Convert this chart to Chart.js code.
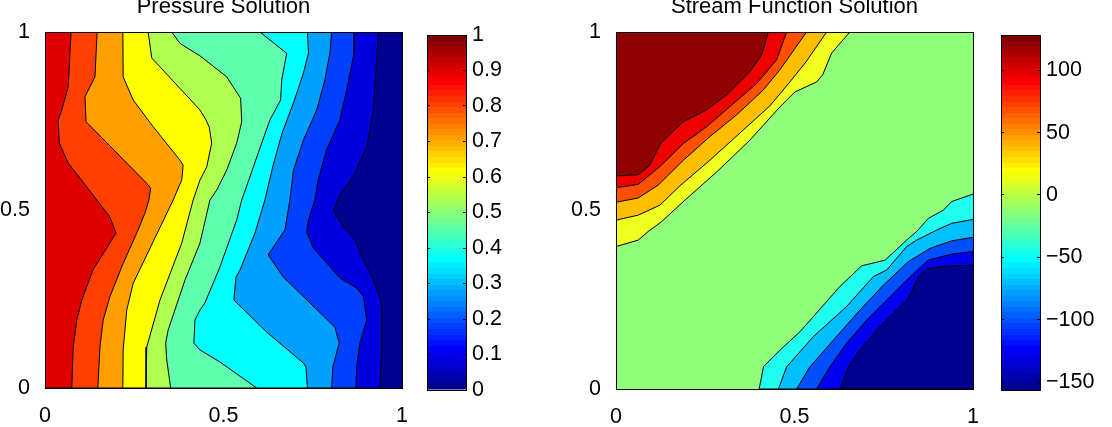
<!DOCTYPE html>
<html>
<head>
<meta charset="utf-8">
<script src="https://cdn.jsdelivr.net/npm/chart.js@4.4.1/dist/chart.umd.min.js"></script>
<style>
  html, body { margin: 0; padding: 0; background: #fff; }
  #wrap { position: relative; width: 1112px; height: 427px; overflow: hidden; }
  #wrap canvas { position: absolute; left: 0; top: 0; }
</style>
</head>
<body>
<div id="wrap">
  <canvas id="pressure" width="1112" height="427"></canvas>
  <canvas id="pressureBar" width="1112" height="427"></canvas>
  <canvas id="stream" width="1112" height="427"></canvas>
  <canvas id="streamBar" width="1112" height="427"></canvas>
</div>
<script>
// pressure contour lines, each traced from the top edge (y = 1) down to y = 0,
// from the high pressure side (left) to the low side (right)
const pressureC1 = [[0.073,1],[0.065,0.846],[0.047,0.781],[0.037,0.753],[0.040,0.688],[0.065,0.632],[0.182,0.480],[0.199,0.435],[0.134,0.331],[0.103,0.247],[0.089,0.191],[0.079,0.115],[0.075,0]];
const pressureC2 = [[0.146,1],[0.140,0.874],[0.126,0.846],[0.112,0.818],[0.115,0.748],[0.285,0.575],[0.296,0.561],[0.291,0.528],[0.280,0.491],[0.257,0.435],[0.219,0.350],[0.182,0.257],[0.163,0.191],[0.154,0.116],[0.148,0]];
const pressureC3 = [[0.218,1],[0.219,0.874],[0.247,0.809],[0.303,0.734],[0.378,0.640],[0.387,0.626],[0.383,0.584],[0.359,0.528],[0.247,0.294],[0.229,0.219],[0.219,0.107],[0.218,0]];
const pressureC4 = [[0.289,1],[0.299,0.927],[0.434,0.781],[0.451,0.753],[0.460,0.733],[0.467,0.688],[0.453,0.621],[0.434,0.584],[0.415,0.528],[0.383,0.407],[0.322,0.247],[0.285,0.115],[0.283,0]];
const pressureC5 = [[0.355,1],[0.378,0.968],[0.434,0.933],[0.509,0.874],[0.527,0.846],[0.548,0.814],[0.551,0.748],[0.537,0.688],[0.509,0.612],[0.481,0.556],[0.462,0.528],[0.434,0.407],[0.392,0.303],[0.345,0.163],[0.338,0.126],[0.341,0.079],[0.352,0]];
const pressureC6 = [[0.602,1],[0.677,0.940],[0.663,0.865],[0.660,0.809],[0.630,0.753],[0.607,0.688],[0.574,0.593],[0.551,0.528],[0.537,0.472],[0.490,0.340],[0.448,0.239],[0.434,0.219],[0.420,0.191],[0.417,0.126],[0.434,0.107],[0.490,0.073],[0.593,0]];
const pressureC7 = [[0.735,1],[0.738,0.941],[0.724,0.885],[0.696,0.801],[0.664,0.716],[0.639,0.626],[0.616,0.528],[0.588,0.435],[0.546,0.331],[0.535,0.312],[0.529,0.247],[0.621,0.157],[0.724,0.070],[0.731,0.059],[0.735,0]];
const pressureC8 = [[0.803,1],[0.798,0.941],[0.784,0.865],[0.761,0.781],[0.724,0.697],[0.696,0.612],[0.686,0.528],[0.672,0.444],[0.625,0.374],[0.667,0.312],[0.812,0.171],[0.824,0.126],[0.806,0.059],[0.803,0]];
const pressureC9 = [[0.867,1],[0.866,0.941],[0.845,0.837],[0.826,0.753],[0.789,0.669],[0.765,0.584],[0.756,0.528],[0.738,0.472],[0.733,0.438],[0.752,0.393],[0.826,0.309],[0.873,0.281],[0.892,0.256],[0.901,0.191],[0.882,0.126],[0.873,0.059],[0.871,0]];
const pressureC10 = [[0.934,1],[0.929,0.921],[0.920,0.781],[0.901,0.677],[0.868,0.604],[0.826,0.542],[0.808,0.497],[0.836,0.452],[0.868,0.416],[0.892,0.360],[0.920,0.303],[0.938,0.256],[0.943,0.219],[0.943,0.115],[0.938,0]];

// stream function, upper-left contours (left edge -> top edge), outermost first
const streamT5 = [[0,0.399],[0.062,0.417],[0.090,0.441],[0.128,0.469],[0.193,0.529],[0.282,0.608],[0.375,0.697],[0.459,0.790],[0.501,0.832],[0.562,0.860],[0.579,0.880],[0.604,0.941],[0.655,1]];
const streamT4 = [[0,0.473],[0.062,0.487],[0.123,0.515],[0.179,0.569],[0.263,0.641],[0.356,0.725],[0.431,0.793],[0.487,0.860],[0.532,0.916],[0.590,1]];
const streamT3 = [[0,0.523],[0.062,0.535],[0.118,0.571],[0.189,0.641],[0.263,0.707],[0.338,0.768],[0.413,0.838],[0.459,0.894],[0.534,1]];
const streamT2 = [[0,0.564],[0.062,0.573],[0.123,0.623],[0.189,0.688],[0.254,0.735],[0.319,0.791],[0.394,0.856],[0.450,0.922],[0.478,1]];
const streamT1 = [[0,0.597],[0.062,0.600],[0.093,0.625],[0.125,0.688],[0.189,0.749],[0.249,0.779],[0.310,0.824],[0.375,0.889],[0.408,0.936],[0.427,1]];

// stream function, lower-right contours (right edge -> bottom edge), outermost first
const streamB1 = [[1,0.546],[0.940,0.525],[0.917,0.501],[0.875,0.478],[0.842,0.441],[0.814,0.417],[0.754,0.361],[0.688,0.345],[0.627,0.287],[0.553,0.203],[0.515,0.160],[0.469,0.118],[0.431,0.081],[0.413,0.062],[0.401,0]];
const streamB2 = [[1,0.475],[0.940,0.464],[0.898,0.445],[0.842,0.417],[0.814,0.399],[0.758,0.333],[0.721,0.315],[0.646,0.231],[0.553,0.147],[0.515,0.104],[0.478,0.062],[0.455,0]];
const streamB3 = [[1,0.425],[0.940,0.415],[0.880,0.394],[0.819,0.357],[0.749,0.291],[0.683,0.221],[0.609,0.137],[0.543,0.062],[0.506,0]];
const streamB4 = [[1,0.385],[0.940,0.378],[0.875,0.361],[0.824,0.315],[0.768,0.259],[0.702,0.193],[0.646,0.128],[0.599,0.062],[0.562,0]];
const streamB5 = [[1,0.347],[0.936,0.345],[0.875,0.338],[0.847,0.315],[0.819,0.254],[0.739,0.175],[0.683,0.109],[0.651,0.062],[0.627,0]];

const unitSquare = [[0,0],[1,0],[1,1],[0,1]];

// axis ticks
const axisTicks = [0, 0.5, 1];
const axisTickLabels = ['0', '0.5', '1'];
const pressureRange = [0, 1];
const pressureBarTicks = [0, 0.1, 0.2, 0.3, 0.4, 0.5, 0.6, 0.7, 0.8, 0.9, 1];
const pressureBarLabels = ['0', '0.1', '0.2', '0.3', '0.4', '0.5', '0.6', '0.7', '0.8', '0.9', '1'];
const streamRange = [-156.4, 128.3];
const streamBarTicks = [-150, -100, -50, 0, 50, 100];
const streamBarLabels = ['\u2212150', '\u2212100', '\u221250', '0', '50', '100'];

// band colours, low to high
const pressureColors = ['#000090', '#0000df', '#0040ff', '#00a0ff', '#00ffff', '#60ffb0', '#b0ff50', '#ffff00', '#ffa000', '#ff4000', '#df0000'];
const streamLowColors = ['#20ffef', '#00bfff', '#0050ff', '#0000ef', '#00008f'];
const streamHighColors = ['#efff20', '#ffbf00', '#ff5000', '#ef0000', '#8f0000'];
const streamMidColor = '#90ff7c';

const W = 1112, H = 427;
const FONT = { family: "'Liberation Sans', Arial, Helvetica, sans-serif", size: 21.5 };
const frame = { display: true, color: '#000', width: 1, z: 2 };
const fixedSize = (w, h) => s => {
  if (s.isHorizontal()) s.height = h; else s.width = w;
};
const fixedTicks = values => s => { s.ticks = values.map(v => ({ value: v })); };

// MATLAB style jet colormap
function jet(m) {
  const n = Math.ceil(m / 4);
  const u = [];
  for (let i = 1; i <= n; i++) u.push(i / n);
  for (let i = 1; i < n; i++) u.push(1);
  for (let i = n; i >= 1; i--) u.push(i / n);
  const off = Math.ceil(n / 2) - (m % 4 === 1 ? 1 : 0);
  const gAll = u.map((_, k) => off + k + 1);
  const r = gAll.map(v => v + n).filter(v => v <= m);
  const b = gAll.map(v => v - n).filter(v => v >= 1);
  const g = gAll.filter(v => v <= m);
  const rgb = Array.from({ length: m }, () => [0, 0, 0]);
  r.forEach((row, k) => { rgb[row - 1][0] = u[k]; });
  g.forEach((row, k) => { rgb[row - 1][1] = u[k]; });
  b.forEach((row, k) => { rgb[row - 1][2] = u[u.length - b.length + k]; });
  return rgb.map(c => `rgb(${c.map(v => Math.round(v * 255)).join(',')})`);
}
const jetMap = jet(64);

const toPoints = arr => arr.map(([x, y]) => ({ x, y }));

function layer(points, color, stroke) {
  return {
    data: toPoints(points),
    showLine: true,
    fill: 'shape',
    backgroundColor: color,
    borderColor: '#000',
    borderWidth: stroke ? 1 : 0,
    pointRadius: 0,
    pointHoverRadius: 0,
    tension: 0
  };
}

// first layer sits at the bottom
function stackOrder(layers) {
  layers.forEach((d, i) => { d.order = layers.length - i; });
  return layers;
}

// area = plot rectangle in canvas pixels; the y axis box runs from x = 0 (or a
// fixed width) up to area.left so its labels are not clipped
function contourChart(id, title, layers, area, yAxisWidth) {
  return new Chart(document.getElementById(id), {
    type: 'scatter',
    data: { datasets: stackOrder(layers) },
    options: {
      responsive: false,
      animation: false,
      events: [],
      layout: { padding: { left: area.left - yAxisWidth, right: W - area.right, top: 0, bottom: 0 } },
      plugins: {
        legend: { display: false },
        tooltip: { enabled: false },
        title: {
          display: true,
          text: title,
          fullSize: false,
          color: '#000',
          font: { family: FONT.family, size: 22, weight: 'normal', lineHeight: 0.66 },
          padding: { top: 0, bottom: area.top - 22 * 0.66 }
        }
      },
      scales: {
        x: {
          type: 'linear', position: 'bottom', min: 0, max: 1,
          afterBuildTicks: fixedTicks(axisTicks), afterFit: fixedSize(0, H - area.bottom),
          ticks: { callback: (v, i) => axisTickLabels[i], color: '#000', font: FONT, padding: 7, maxRotation: 0, autoSkip: false },
          grid: { display: false }, border: frame
        },
        y: {
          type: 'linear', position: 'left', min: 0, max: 1,
          afterBuildTicks: fixedTicks(axisTicks), afterFit: fixedSize(yAxisWidth, 0),
          ticks: { callback: (v, i) => axisTickLabels[i], color: '#000', font: FONT, padding: 7, autoSkip: false },
          grid: { display: false }, border: frame
        },
        x2: {
          type: 'linear', position: 'top', min: 0, max: 1, afterFit: fixedSize(0, 0),
          ticks: { display: false }, grid: { display: false }, border: frame
        },
        y2: {
          type: 'linear', position: 'right', min: 0, max: 1, afterFit: fixedSize(0, 0),
          ticks: { display: false }, grid: { display: false }, border: frame
        }
      }
    }
  });
}

function colorbarChart(id, range, tickValues, tickLabels, area) {
  const labelWidth = 70;
  const inward = { display: true, drawOnChartArea: false, drawTicks: true, tickLength: -3, color: '#000', tickColor: '#000', tickWidth: 1, z: 1 };
  const jetFill = c => {
    const chart = c.chart;
    const a = chart.chartArea;
    if (!a) return jetMap[0];
    const grad = chart.ctx.createLinearGradient(0, a.bottom, 0, a.top);
    jetMap.forEach((col, i) => {
      grad.addColorStop(i / jetMap.length, col);
      grad.addColorStop((i + 1) / jetMap.length, col);
    });
    return grad;
  };
  return new Chart(document.getElementById(id), {
    type: 'bar',
    data: {
      labels: [''],
      datasets: [{ data: [range], backgroundColor: jetFill, borderWidth: 0, barPercentage: 1, categoryPercentage: 1, inflateAmount: 0 }]
    },
    options: {
      responsive: false,
      animation: false,
      events: [],
      layout: { padding: { left: area.left, right: W - area.right - labelWidth, top: area.top, bottom: H - area.bottom } },
      plugins: { legend: { display: false }, tooltip: { enabled: false } },
      scales: {
        x: { position: 'bottom', afterFit: fixedSize(0, 0), ticks: { display: false }, grid: { display: false }, border: frame },
        x2: { type: 'category', position: 'top', afterFit: fixedSize(0, 0), ticks: { display: false }, grid: { display: false }, border: frame },
        y: {
          type: 'linear', position: 'right', min: range[0], max: range[1],
          afterBuildTicks: fixedTicks(tickValues), afterFit: fixedSize(labelWidth, 0),
          ticks: { callback: (v, i) => tickLabels[i], color: '#000', font: FONT, padding: 9, autoSkip: false },
          grid: inward, border: frame
        },
        y2: {
          type: 'linear', position: 'left', min: range[0], max: range[1],
          afterBuildTicks: fixedTicks(tickValues), afterFit: fixedSize(0, 0),
          ticks: { display: false },
          grid: inward, border: frame
        }
      }
    }
  });
}

// pressure: each band fills everything left of its contour
const pressureLines = [pressureC10, pressureC9, pressureC8, pressureC7, pressureC6, pressureC5, pressureC4, pressureC3, pressureC2, pressureC1];
const pressureLayers = [layer(unitSquare, pressureColors[0], false)];
pressureLines.forEach((line, i) => {
  pressureLayers.push(layer([...line, [0, 0], [0, 1]], pressureColors[i + 1], true));
});

// stream function: neutral background, high values in the upper-left corner,
// low values in the lower-right corner
const streamLayers = [layer(unitSquare, streamMidColor, false)];
[streamT5, streamT4, streamT3, streamT2, streamT1].forEach((line, i) => {
  streamLayers.push(layer([...line, [0, 1]], streamHighColors[i], true));
});
[streamB1, streamB2, streamB3, streamB4, streamB5].forEach((line, i) => {
  streamLayers.push(layer([...line, [1, 0]], streamLowColors[i], true));
});

contourChart('pressure', 'Pressure Solution', pressureLayers, { left: 45, right: 402, top: 32, bottom: 388 }, 45);
colorbarChart('pressureBar', pressureRange, pressureBarTicks, pressureBarLabels, { left: 427, right: 466, top: 35, bottom: 390 });
contourChart('stream', 'Stream Function Solution', streamLayers, { left: 616, right: 973, top: 32, bottom: 389 }, 60);
colorbarChart('streamBar', streamRange, streamBarTicks, streamBarLabels, { left: 1001, right: 1040, top: 35, bottom: 390 });
</script>
</body>
</html>
